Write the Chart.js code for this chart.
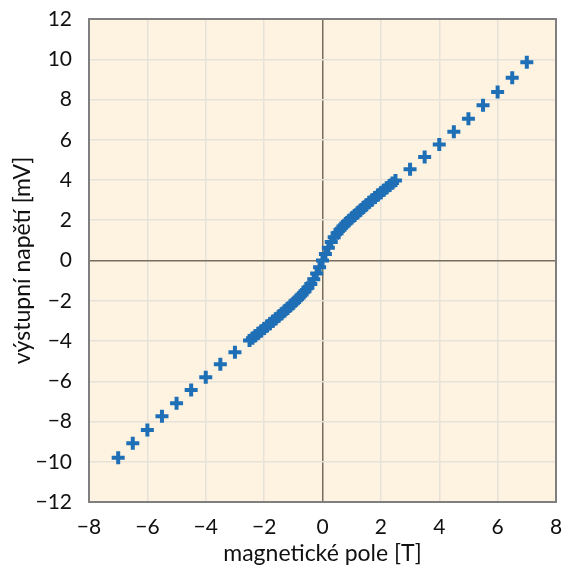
<!DOCTYPE html>
<html>
<head>
<meta charset="utf-8">
<script src="https://cdn.jsdelivr.net/npm/chart.js@4/dist/chart.umd.min.js"></script>
<style>
  html, body { margin: 0; padding: 0; background: #ffffff; }
  #wrap { width: 575px; height: 567px; }
</style>
</head>
<body>
<div id="wrap"><canvas id="myChart" width="575" height="567"></canvas></div>
<script>
// field values [T] and output voltage [mV]
var fieldOuter = [-7, -6.5, -6, -5.5, -5, -4.5, -4, -3.5, -3,
                  3, 3.5, 4, 4.5, 5, 5.5, 6, 6.5, 7];
var voltOuter = [-9.8, -9.08, -8.42, -7.74, -7.09, -6.44, -5.8, -5.16, -4.56,
                 4.54, 5.14, 5.77, 6.4, 7.04, 7.71, 8.37, 9.08, 9.85];

var fieldInner = [-2.5, -2.4, -2.3, -2.2, -2.1, -2.0, -1.9, -1.8, -1.7, -1.6,
                  -1.5, -1.4, -1.3, -1.2, -1.1, -1.0, -0.9, -0.8, -0.7, -0.6,
                  -0.5, -0.4, -0.3, -0.2, -0.1, 0.0, 0.1, 0.2, 0.3, 0.4,
                  0.5, 0.6, 0.7, 0.8, 0.9, 1.0, 1.1, 1.2, 1.3, 1.4,
                  1.5, 1.6, 1.7, 1.8, 1.9, 2.0, 2.1, 2.2, 2.3, 2.4, 2.5];
var voltInner = [-3.98, -3.86, -3.74, -3.62, -3.5, -3.38, -3.26, -3.14, -3.02, -2.9,
                 -2.77, -2.64, -2.51, -2.38, -2.25, -2.12, -1.98, -1.84, -1.69, -1.53,
                 -1.36, -1.17, -0.93, -0.64, -0.33, 0.0, 0.32, 0.63, 0.92, 1.16,
                 1.36, 1.53, 1.69, 1.84, 1.98, 2.11, 2.24, 2.37, 2.5, 2.63,
                 2.76, 2.89, 3.01, 3.13, 3.25, 3.37, 3.49, 3.61, 3.73, 3.85, 3.98];

var xTicks = [-8, -6, -4, -2, 0, 2, 4, 6, 8];
var yTicks = [-12, -10, -8, -6, -4, -2, 0, 2, 4, 6, 8, 10, 12];

var points = [];
fieldOuter.forEach(function (x, i) { points.push({ x: x, y: voltOuter[i] }); });
fieldInner.forEach(function (x, i) { points.push({ x: x, y: voltInner[i] }); });

var fontFam = 'Lato, "Open Sans", sans-serif';

function fmt(v) {
    return v < 0 ? '\u2212' + Math.abs(v) : String(v);
}

// plot area background + frame
var frame = {
    id: 'frame',
    beforeDraw: function (chart) {
        var a = chart.chartArea, c = chart.ctx;
        c.save();
        c.fillStyle = '#fdf3e0';
        c.fillRect(a.left, a.top, a.right - a.left, a.bottom - a.top);
        c.restore();
    },
    afterDraw: function (chart) {
        var a = chart.chartArea, c = chart.ctx;
        c.save();
        c.strokeStyle = '#7f7f7f';
        c.lineWidth = 2;
        c.strokeRect(a.left, a.top, a.right - a.left, a.bottom - a.top);
        c.restore();
    }
};

var ctx = document.getElementById('myChart').getContext('2d');
var myChart = new Chart(ctx, {
    type: 'scatter',
    data: {
        datasets: [{
            data: points,
            pointStyle: 'cross',
            pointRadius: 6.5,
            pointBorderWidth: 4,
            borderColor: '#1f6fb6',
            backgroundColor: '#1f6fb6'
        }]
    },
    options: {
        responsive: false,
        animation: false,
        layout: { padding: { top: 19, right: 19, left: 0, bottom: 0 } },
        plugins: { legend: { display: false }, tooltip: { enabled: false } },
        scales: {
            x: {
                type: 'linear',
                min: -8, max: 8,
                afterBuildTicks: function (s) { s.ticks = xTicks.map(function (v) { return { value: v }; }); },
                afterFit: function (s) { s.height = 65; s.paddingLeft = 0; s.paddingRight = 0; },
                border: { display: false },
                grid: {
                    drawTicks: false,
                    color: function (c) { return c.tick && c.tick.value === 0 ? '#756d60' : '#e6e2da'; },
                    lineWidth: 1.5
                },
                ticks: {
                    padding: 13,
                    color: '#111',
                    font: { family: fontFam, size: 21 },
                    callback: function (v) { return fmt(v); }
                },
                title: {
                    display: true,
                    text: 'magnetické pole [T]',
                    color: '#111',
                    font: { family: fontFam, size: 23 },
                    padding: { top: 0, bottom: 0 }
                }
            },
            y: {
                type: 'linear',
                min: -12, max: 12,
                afterBuildTicks: function (s) { s.ticks = yTicks.map(function (v) { return { value: v }; }); },
                afterFit: function (s) { s.width = 89; s.paddingTop = 0; s.paddingBottom = 0; },
                border: { display: false },
                grid: {
                    drawTicks: false,
                    color: function (c) { return c.tick && c.tick.value === 0 ? '#756d60' : '#e6e2da'; },
                    lineWidth: 1.5
                },
                ticks: {
                    padding: 17,
                    color: '#111',
                    font: { family: fontFam, size: 21 },
                    callback: function (v) { return fmt(v); }
                },
                title: {
                    display: true,
                    text: 'výstupní napětí [mV]',
                    color: '#111',
                    font: { family: fontFam, size: 23 },
                    padding: { top: 9, bottom: 0 }
                }
            }
        }
    },
    plugins: [frame]
});
</script>
</body>
</html>
